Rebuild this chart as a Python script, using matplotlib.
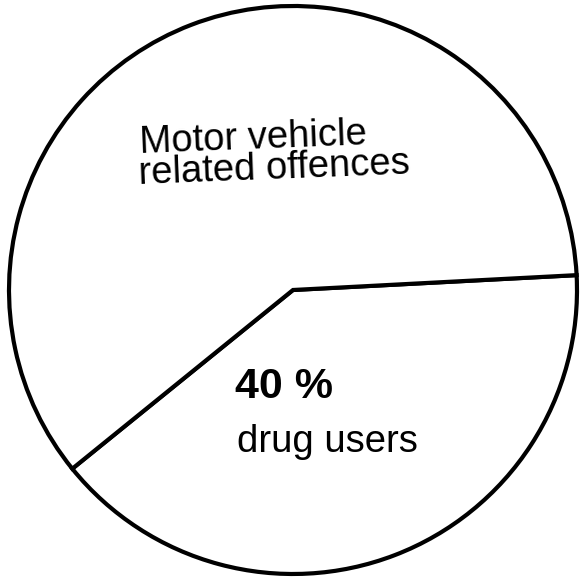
import matplotlib
matplotlib.use("Agg")
from matplotlib import pyplot as plt

# share of motor vehicle related offences
categories = ['drug users', 'other']
shares = [40, 60]
group_label = ['Motor vehicle', 'related offences']

plt.rcParams['font.family'] = ['Liberation Sans', 'DejaVu Sans']

fig = plt.figure(figsize=(5.81, 5.77), dpi=100)
ax = fig.add_axes([0, 0, 1, 1])
ax.pie(shares, startangle=3, counterclock=False, colors=['white', 'white'],
       wedgeprops=dict(edgecolor='black', linewidth=3))
ax.set_aspect('auto')
ax.set_xlim(-1.0317, 1.0141)
ax.set_ylim(-1.0106, 1.0211)
ax.axis('off')

ax.text(-0.539, 0.482, group_label[0], fontsize=27.5, rotation=2.2,
        rotation_mode='anchor', ha='left', va='baseline')
ax.text(-0.542, 0.372, group_label[1], fontsize=27.5, rotation=2.2,
        rotation_mode='anchor', ha='left', va='baseline')
ax.text(-0.204, -0.380, f'{shares[0]} %', fontsize=31, fontweight='bold',
        ha='left', va='baseline')
ax.text(-0.197, -0.570, categories[0], fontsize=27.5, ha='left', va='baseline')

plt.savefig('out.png', dpi=100)
